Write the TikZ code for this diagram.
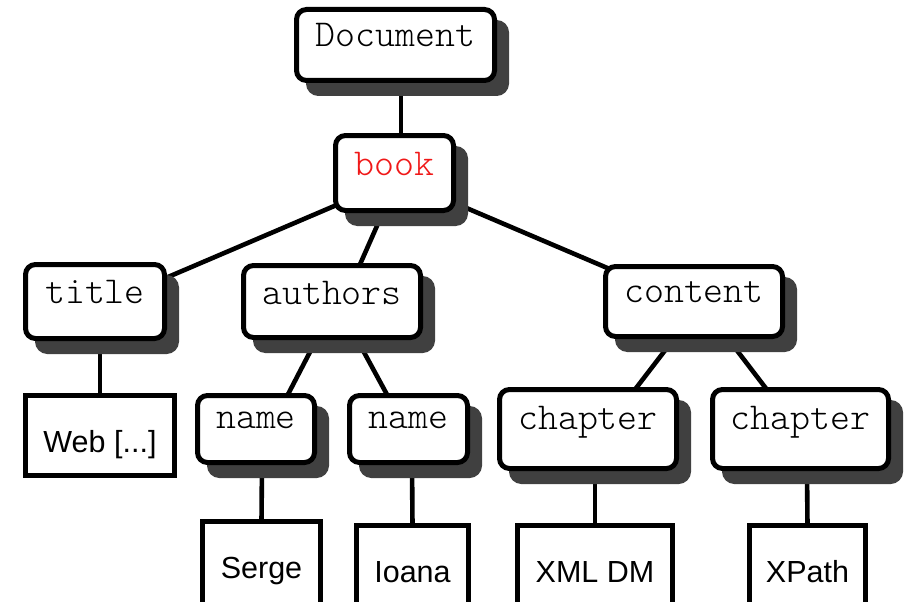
\documentclass[tikz,border=0pt]{standalone}
\usepackage{fontspec}
\setsansfont{Liberation Sans}
\setmonofont{Latin Modern Mono Light}
\usetikzlibrary{calc}
\pgfdeclarelayer{wires}
\pgfdeclarelayer{shade}
\pgfsetlayers{wires,shade,main}
\definecolor{shadegray}{HTML}{404040}
\definecolor{tagred}{HTML}{F01818}
\tikzset{
  tagbox/.style={draw=black, fill=white, line width=5pt, rounded corners=10pt, inner sep=0pt, outer sep=0pt},
  tagshade/.style={draw=shadegray, fill=shadegray, line width=5pt, rounded corners=10pt, inner sep=0pt, outer sep=0pt},
  leafbox/.style={draw=black, fill=white, line width=5pt, inner sep=0pt, outer sep=0pt},
  tagtext/.style={font=\fontsize{38}{44}\selectfont\ttfamily, inner sep=0pt, anchor=base},
  leaftext/.style={font=\fontsize{30.5}{36}\selectfont\sffamily, inner sep=0pt, anchor=base},
  wire/.style={line width=4.6pt},
}
% element node: name, x1, y1, x2, y2, baseline, label
\newcommand\tagel[7]{%
  \node[tagbox, minimum width={#4-#2-5}, minimum height={#5-#3-5}] (#1) at ({(#2+#4)/2},{(#3+#5)/2}) {};
  \begin{pgfonlayer}{shade}
    \node[tagshade, minimum width={#4-#2-5}, minimum height={#5-#3-5}] (#1sh) at ($(#1)+(12,13)$) {};
  \end{pgfonlayer}
  \node[tagtext] (#1t) at ({(#2+#4)/2},#6) {#7};
}
% text leaf: name, x1, y1, x2, y2, baseline, label
\newcommand\leafel[7]{%
  \node[leafbox, minimum width={#4-#2-5}, minimum height={#5-#3-5}] (#1) at ({(#2+#4)/2},{(#3+#5)/2}) {};
  \node[leaftext] (#1t) at ({(#2+#4)/2},#6) {#7};
}
\begin{document}
\begin{tikzpicture}[x=1pt, y=-1pt]
\useasboundingbox (0,0) rectangle (908,602);

\tagel{doc}{294}{7}{497}{83}{47}{Document}
\tagel{book}{333}{133}{456}{213}{175}{\textcolor{tagred}{book}}
\tagel{title}{23}{262}{167}{341}{303}{title}
\tagel{authors}{241}{263}{423}{340}{304}{authors}
\tagel{content}{603}{264}{785}{339}{302}{content}
\tagel{name1}{195}{393}{317}{465}{428}{name}
\tagel{name2}{347}{393}{470}{465}{428}{name}
\tagel{ch1}{497}{387}{679}{471}{429}{chapter}
\tagel{ch2}{710}{387}{891}{471}{429}{chapter}

\begin{scope}
  \clip (0,0) rectangle (908,602);
  \leafel{web}{23}{393}{177}{478}{452}{Web [...]}
  \leafel{serge}{200}{519}{323}{640}{578}{Serge}
  \leafel{ioana}{354}{523}{471}{640}{582}{Ioana}
  \leafel{xml}{515}{523}{675}{640}{582}{XML DM}
  \leafel{xpath}{747}{523}{868}{640}{582}{XPath}
\end{scope}

\begin{pgfonlayer}{wires}
  \draw[wire] ($(doc.south)+(5.5,0)$) -- ($(book.north)+(6.5,0)$);
  \draw[wire] ($(book.south west)+(0,-5)$) -- ($(title.north east)+(0,14)$);
  \draw[wire] ($(book.south)+(-10.7,0)$) -- ($(authors.north)+(27.5,0)$);
  \draw[wire] ($(book.south east)+(0,-8)$) -- ($(content.north west)+(3,2)$);
  \draw[wire] ($(authors.south)+(-14.5,0)$) -- ($(name1.north)+(31.4,0)$);
  \draw[wire] ($(authors.south)+(24,0)$) -- ($(name2.north)+(-21,0)$);
  \draw[wire] ($(content.south)+(-18.3,0)$) -- ($(ch1.north)+(47,0)$);
  \draw[wire] ($(content.south)+(32.3,0)$) -- ($(ch2.north)+(-33.7,0)$);
  \draw[wire] ($(title.south)+(5,0)$) -- (web.north);
  \draw[wire] ($(name1.south)+(6,0)$) -- (serge.north);
  \draw[wire] ($(name2.south)+(3.5,0)$) -- (ioana.north);
  \draw[wire] ($(ch1.south)+(7,0)$) -- (xml.north);
  \draw[wire] ($(ch2.south)+(6.5,0)$) -- (xpath.north);
\end{pgfonlayer}
\end{tikzpicture}
\end{document}
